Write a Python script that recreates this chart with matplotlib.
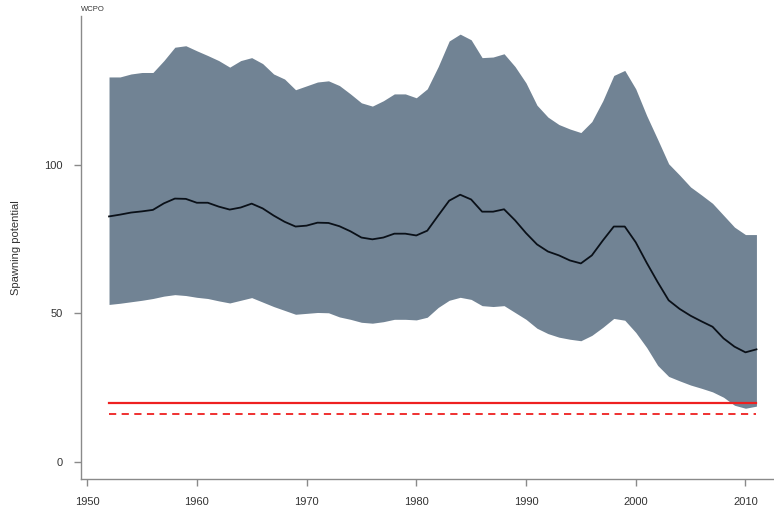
import matplotlib
matplotlib.use("Agg")
import matplotlib.pyplot as plt
import numpy as np

plt.rcParams['font.family'] = ['Liberation Sans', 'DejaVu Sans']

years = list(range(1952, 2012))

upper = [129.5, 129.5, 130.5, 131.0, 131.0, 135.0, 139.5, 140.0, 138.3, 136.7,
         135.0, 132.8, 135.0, 136.0, 134.0, 130.5, 128.8, 125.2, 126.5, 127.8,
         128.2, 126.6, 123.8, 120.8, 119.7, 121.5, 123.8, 123.8, 122.5, 125.5,
         133.0, 141.6, 143.9, 142.0, 136.0, 136.2, 137.3, 133.0, 127.5, 120.0,
         116.0, 113.5, 112.0, 110.8, 114.5, 121.5, 130.0, 131.7, 125.5, 116.5,
         108.5, 100.3, 96.5, 92.5, 89.8, 87.0, 83.0, 79.0, 76.5, 76.5]

median = [82.6, 83.2, 83.9, 84.3, 84.8, 87.0, 88.6, 88.5, 87.2, 87.2,
          85.9, 84.9, 85.6, 86.9, 85.3, 82.9, 80.8, 79.2, 79.5, 80.5,
          80.4, 79.3, 77.6, 75.5, 74.9, 75.5, 76.8, 76.8, 76.2, 77.8,
          82.9, 87.9, 89.9, 88.3, 84.2, 84.2, 85.0, 81.3, 77.0, 73.2,
          70.8, 69.5, 67.8, 66.8, 69.5, 74.5, 79.2, 79.2, 73.9, 67.0,
          60.5, 54.4, 51.5, 49.2, 47.3, 45.5, 41.6, 38.8, 36.9, 37.9]

lower = [53.0, 53.4, 53.9, 54.4, 55.0, 55.8, 56.3, 56.0, 55.4, 55.0,
         54.2, 53.5, 54.4, 55.3, 53.8, 52.3, 51.0, 49.7, 50.0, 50.3,
         50.2, 48.8, 48.0, 47.0, 46.7, 47.2, 48.0, 48.0, 47.8, 48.7,
         52.0, 54.4, 55.4, 54.7, 52.6, 52.3, 52.6, 50.3, 48.0, 45.0,
         43.2, 42.0, 41.3, 40.8, 42.6, 45.3, 48.3, 47.7, 43.6, 38.5,
         32.5, 28.8, 27.3, 25.9, 24.8, 23.6, 21.8, 19.1, 18.1, 18.8]

ref_solid = 20
ref_dashed = 16

fig = plt.figure(figsize=(7.74, 5.11), dpi=100)
ax = fig.add_axes([0.1047, 0.0626, 0.8953, 0.9061])

ax.fill_between(years, lower, upper, color='#718394', linewidth=0)
ax.plot(years, median, color='#0a1018', linewidth=1.3)
ax.plot([years[0], years[-1]], [ref_solid, ref_solid], color='#ee2020', linewidth=1.6)
ax.plot([years[0], years[-1]], [ref_dashed, ref_dashed], color='#ee2020',
        linewidth=1.3, linestyle=(0, (4, 3)))

ax.set_xlim(1949.45, 2012.6)
ax.set_ylim(-5.7, 150)
ax.set_xticks([1950, 1960, 1970, 1980, 1990, 2000, 2010])
ax.set_yticks([0, 50, 100])

for s in ['top', 'right']:
    ax.spines[s].set_visible(False)
for s in ['left', 'bottom']:
    ax.spines[s].set_color('#8a8a8a')
    ax.spines[s].set_linewidth(1.0)

ax.tick_params(axis='both', colors='#8a8a8a', labelcolor='#333333',
               labelsize=8, length=5, width=1.0, pad=8)
ax.set_ylabel('Spawning potential', fontsize=8, color='#333333', labelpad=17)
fig.text(0.1047, 0.975, 'WCPO', fontsize=5.5, color='#333333', ha='left', va='bottom')

fig.savefig('out.png', dpi=100)
